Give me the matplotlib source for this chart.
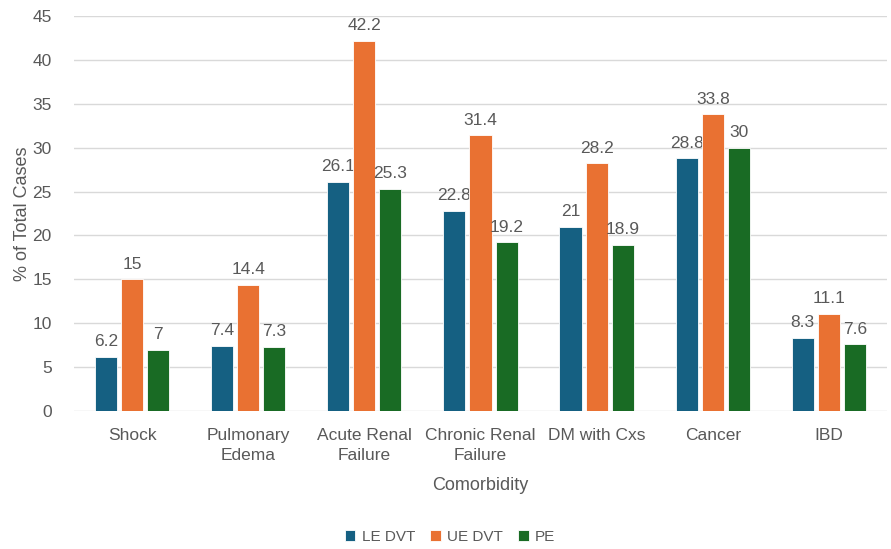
import numpy as np
import matplotlib
matplotlib.use("Agg")
import matplotlib.pyplot as plt

categories = ["Shock", "Pulmonary\nEdema", "Acute Renal\nFailure", "Chronic Renal\nFailure",
              "DM with Cxs", "Cancer", "IBD"]
series_names = ["LE DVT", "UE DVT", "PE"]
le_dvt = [6.2, 7.4, 26.1, 22.8, 21, 28.8, 8.3]
ue_dvt = [15, 14.4, 42.2, 31.4, 28.2, 33.8, 11.1]
pe = [7, 7.3, 25.3, 19.2, 18.9, 30, 7.6]
colors = ["#156082", "#E97132", "#196B24"]

plt.rcParams['font.family'] = ['Liberation Sans', 'DejaVu Sans']
grey = "#595959"

fig = plt.figure(figsize=(8.91, 5.49), dpi=100)
ax = fig.add_axes([0.083, 0.2514, 0.9125, 0.7195])

x = np.arange(len(categories))
width = 0.19
offsets = [-0.225, 0, 0.225]
for vals, name, col, off in zip([le_dvt, ue_dvt, pe], series_names, colors, offsets):
    bars = ax.bar(x + off, vals, width, color=col, label=name, edgecolor="white",
                  linewidth=0.6, zorder=3)
    for b, v in zip(bars, vals):
        ax.annotate(f"{v:g}", (b.get_x() + b.get_width() / 2, v), xytext=(0, 5.5),
                    textcoords="offset points", ha="center", va="bottom",
                    fontsize=12.5, color=grey)

ax.set_xlim(-0.5, len(categories) - 0.5)
ax.set_ylim(0, 45)
ax.set_yticks(np.arange(0, 46, 5))
ax.grid(axis="y", color="#d9d9d9", linewidth=1, zorder=0)
for s in ["top", "right", "left", "bottom"]:
    ax.spines[s].set_visible(False)
ax.tick_params(axis="both", length=0, labelsize=12.5, labelcolor=grey)
ax.tick_params(axis="y", pad=16)
ax.tick_params(axis="x", pad=12)
ax.set_xticks(x)
ax.set_xticklabels(categories, linespacing=1.45)
ax.set_xlabel("Comorbidity", fontsize=13, color=grey, labelpad=10)
ax.set_ylabel("% of Total Cases", fontsize=13, color=grey, labelpad=1)

fig.legend(loc="center", bbox_to_anchor=(0.505, 0.022), ncol=3, frameon=False,
           fontsize=11, handlelength=0.7, handleheight=0.7, columnspacing=1.0,
           handletextpad=0.4, labelcolor=grey)

fig.savefig("out.png", dpi=100)
